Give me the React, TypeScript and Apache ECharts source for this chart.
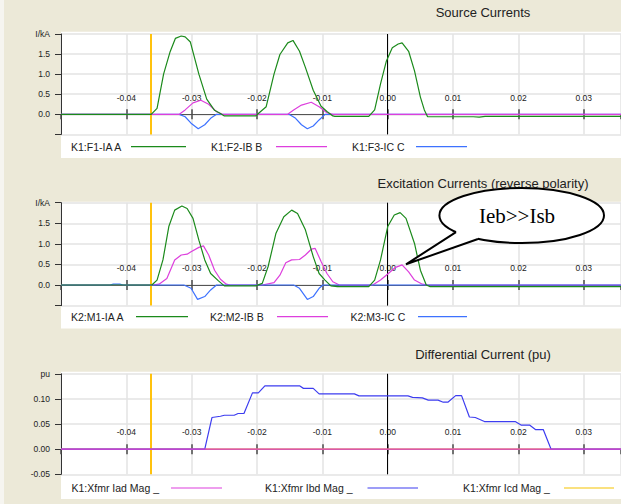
import React, { useEffect, useRef } from 'react';
import * as echarts from 'echarts';

// ---------- data ----------
const X_MIN = -0.05;
const X_MAX = 0.0357;
const cursorTime = -0.0362;
const triggerTime = 0;

const panelTitles = ['Source Currents', 'Excitation Currents (reverse polarity)', 'Differential Current (pu)'];
const srcNames = ['K1:F1-IA A', 'K1:F2-IB B', 'K1:F3-IC C'];
const excNames = ['K2:M1-IA A', 'K2:M2-IB B', 'K2:M3-IC C'];
const diffNames = ['K1:Xfmr Iad Mag _', 'K1:Xfmr Ibd Mag _', 'K1:Xfmr Icd Mag _'];
const calloutText = 'Ieb>>Isb';

const srcIA: [number, number][] = [
  [-0.05, 0], [-0.0362, 0], [-0.0353, 0.15], [-0.0343, 1.0], [-0.0333, 1.56], [-0.0325, 1.89], [-0.0316, 1.95],
  [-0.0310, 1.93], [-0.0302, 1.8], [-0.0289, 1.0], [-0.0277, 0.38], [-0.0265, 0.1], [-0.0256, 0.02], [-0.0250, -0.04],
  [-0.0202, -0.04], [-0.0198, 0.02], [-0.0186, 0.19], [-0.0174, 1.0], [-0.0165, 1.49], [-0.0153, 1.78], [-0.0145, 1.84],
  [-0.0135, 1.57], [-0.0126, 1.17], [-0.0114, 0.6], [-0.0102, 0.2], [-0.0093, 0.07], [-0.0084, -0.04], [-0.0081, -0.05],
  [-0.0029, -0.05], [-0.0020, 0.11], [-0.0011, 0.76], [-0.0002, 1.33], [0.0007, 1.66], [0.0016, 1.75], [0.0022, 1.78],
  [0.0032, 1.57], [0.0041, 1.08], [0.0050, 0.43], [0.0056, 0.11], [0.0061, -0.06], [0.0131, -0.06], [0.0140, -0.07],
  [0.0149, -0.05], [0.0357, -0.05],
];
const srcIB: [number, number][] = [
  [-0.05, 0], [-0.0319, 0], [-0.0310, 0.11], [-0.0298, 0.285], [-0.0286, 0.35], [-0.0274, 0.25], [-0.0262, 0.065],
  [-0.0253, 0], [-0.0153, 0], [-0.0144, 0.11], [-0.0132, 0.23], [-0.0117, 0.3], [-0.0105, 0.19], [-0.0093, 0.04],
  [-0.0084, 0], [0.0357, 0],
];
const srcIC: [number, number][] = [
  [-0.05, 0], [-0.0319, 0], [-0.0310, -0.06], [-0.0301, -0.22], [-0.0290, -0.36], [-0.0280, -0.26], [-0.0271, -0.1],
  [-0.0262, 0], [-0.0151, 0], [-0.0141, -0.1], [-0.0132, -0.26], [-0.0123, -0.36], [-0.0114, -0.29], [-0.0105, -0.14],
  [-0.0096, 0], [0.0357, 0],
];

const excIA: [number, number][] = [
  [-0.05, 0], [-0.0361, 0], [-0.0353, 0.12], [-0.0344, 0.61], [-0.0335, 1.42], [-0.0326, 1.82], [-0.0315, 1.92],
  [-0.0307, 1.86], [-0.0298, 1.62], [-0.0289, 1.09], [-0.0280, 0.61], [-0.0271, 0.28], [-0.0259, 0.1], [-0.0250, -0.02],
  [-0.0202, -0.02], [-0.0192, 0.04], [-0.0183, 0.45], [-0.0171, 1.26], [-0.0159, 1.66], [-0.0147, 1.82], [-0.0138, 1.74],
  [-0.0126, 1.34], [-0.0114, 0.69], [-0.0105, 0.28], [-0.0096, 0.12], [-0.0087, -0.02], [-0.0077, -0.04],
  [-0.0029, -0.04], [-0.0020, 0.12], [-0.0011, 0.61], [0.0000, 1.42], [0.0010, 1.7], [0.0019, 1.76], [0.0028, 1.62],
  [0.0041, 1.01], [0.0050, 0.36], [0.0059, 0], [0.0065, -0.04], [0.0357, -0.04],
];
const excIB: [number, number][] = [
  [-0.05, 0], [-0.0361, 0], [-0.0350, 0.02], [-0.0338, 0.16], [-0.0326, 0.61], [-0.0316, 0.73], [-0.0307, 0.75],
  [-0.0301, 0.81], [-0.0289, 0.915], [-0.0282, 0.95], [-0.0274, 0.73], [-0.0265, 0.36], [-0.0256, 0.14], [-0.0247, 0.02],
  [-0.0241, 0], [-0.0192, 0], [-0.0174, 0.06], [-0.0165, 0.24], [-0.0156, 0.54], [-0.0147, 0.61], [-0.0135, 0.62],
  [-0.0126, 0.73], [-0.0117, 0.87], [-0.0111, 0.89], [-0.0102, 0.57], [-0.0093, 0.28], [-0.0084, 0.08], [-0.0074, 0],
  [-0.0023, 0], [-0.0011, 0.12], [0.0001, 0.28], [0.0012, 0.43], [0.0022, 0.49], [0.0032, 0.32], [0.0041, 0.12],
  [0.0053, 0.02], [0.0062, 0], [0.0357, 0],
];
const excIC: [number, number][] = [
  [-0.05, 0], [-0.0425, 0], [-0.0420, 0.02], [-0.0410, 0.02], [-0.0405, 0], [-0.0312, 0], [-0.0301, -0.08],
  [-0.0291, -0.35], [-0.0280, -0.28], [-0.0271, -0.12], [-0.0262, 0], [-0.0144, 0], [-0.0135, -0.08], [-0.0123, -0.35],
  [-0.0114, -0.28], [-0.0105, -0.08], [-0.0099, 0], [0.0357, 0],
];

const diffIad: [number, number][] = [[-0.05, 0], [0.0357, 0]];
const diffIcd: [number, number][] = [[-0.05, 0], [0.0357, 0]];
const diffIbd: [number, number][] = [
  [-0.05, 0], [-0.0280, 0], [-0.0269, 0.063], [-0.0256, 0.0655], [-0.0250, 0.0675], [-0.0235, 0.0675], [-0.0229, 0.071],
  [-0.0220, 0.071], [-0.0207, 0.112], [-0.0198, 0.112], [-0.0188, 0.126], [-0.0135, 0.126], [-0.0129, 0.121],
  [-0.0114, 0.121], [-0.0105, 0.110], [-0.0051, 0.110], [-0.0044, 0.106], [0.0031, 0.106], [0.0038, 0.103],
  [0.0053, 0.102], [0.0062, 0.0975], [0.0077, 0.0975], [0.0085, 0.0935], [0.0092, 0.0935], [0.0104, 0.1065],
  [0.0113, 0.1065], [0.0125, 0.064], [0.0134, 0.063], [0.0148, 0.055], [0.0195, 0.055], [0.0204, 0.048],
  [0.0217, 0.048], [0.0226, 0.039], [0.0238, 0.039], [0.0250, 0], [0.0357, 0],
];

// ---------- styling / layout ----------
const BG = '#ECE9D8';
const GREEN = '#1b8a1b';
const MAGENTA = '#dd3fdd';
const BLUE = '#3d72ff';
const DBLUE = '#3d3df0';
const GOLD = '#f5c400';
const CURSOR = '#FFC20E';
const GRIDC = '#e3e3e3';
const FONT = '"Liberation Sans", Arial, sans-serif';

const panels = [
  { top: 34, height: 100.4, white: [31.7, 158], legendY: 146.7, titleY: 12.7, ymin: -0.5, ymax: 2, yint: 0.5 },
  { top: 202.7, height: 102.9, white: [201.7, 328.5], legendY: 316.7, titleY: 183.3, ymin: -0.5, ymax: 2, yint: 0.5 },
  { top: 373.8, height: 100.5, white: [371.7, 499], legendY: 488, titleY: 354, ymin: -0.05, ymax: 0.15, yint: 0.05 },
];
const LABEL_ABOVE = 12.3; // px between zero line and bottom of time labels

const legendLayout = [
  { tx: [71, 211, 352], lines: [[131, 186], [276, 327], [416, 467]], colors: [GREEN, MAGENTA, BLUE], names: srcNames },
  { tx: [71, 210, 350.5], lines: [[136, 188], [277, 328], [418, 467]], colors: [GREEN, MAGENTA, BLUE], names: excNames },
  { tx: [71.5, 265, 463], lines: [[171, 222], [367.5, 418], [564, 614]], colors: [MAGENTA, DBLUE, GOLD], names: diffNames },
];

const fmtTime = (v: number) => {
  const r = Math.round(v * 100) / 100;
  if (Math.abs(v - r) > 1e-6 || r < -0.045) return '';
  return (r === 0 ? 0 : r).toFixed(2);
};
const fmtKA = (v: number) => {
  if (Math.abs(v - 2) < 1e-9) return 'I/kA';
  if (v < -0.25) return '';
  return (Math.abs(v) < 1e-9 ? 0 : v).toFixed(1);
};
const fmtPU = (v: number) => {
  if (Math.abs(v - 0.15) < 1e-9) return 'pu';
  return (Math.abs(v) < 1e-9 ? 0 : v).toFixed(2);
};

function buildOption() {
  const grid: any[] = [];
  const xAxis: any[] = [];
  const yAxis: any[] = [];
  panels.forEach((p, i) => {
    // ECharts offsets on-zero axis labels down to the grid bottom; compensate via margin
    const zeroOffset = p.height * (-p.ymin) / (p.ymax - p.ymin);
    grid.push({ left: 61, right: 0, top: p.top, height: p.height, show: false });
    xAxis.push({
      type: 'value', gridIndex: i, min: X_MIN, max: X_MAX, interval: 0.01, position: 'bottom',
      axisLine: { show: true, onZero: true, onZeroAxisIndex: i, lineStyle: { color: '#555', width: 1 } },
      axisTick: { show: true, inside: true, length: 5, lineStyle: { color: '#4a4a4a', width: 1.5 } },
      axisLabel: { inside: true, margin: zeroOffset + LABEL_ABOVE, fontSize: 8.5, color: '#222', fontFamily: FONT, formatter: fmtTime, showMinLabel: false, showMaxLabel: false },
      splitLine: { show: true, lineStyle: { color: GRIDC, width: 1.5 } },
    });
    xAxis.push({
      type: 'value', gridIndex: i, min: X_MIN, max: X_MAX, interval: 0.01, position: 'bottom',
      axisLine: { show: false, onZero: true, onZeroAxisIndex: i },
      axisTick: { show: true, inside: false, length: 5, lineStyle: { color: '#4a4a4a', width: 1.5 } },
      axisLabel: { show: false },
      splitLine: { show: false },
    });
    yAxis.push({
      type: 'value', gridIndex: i, min: p.ymin, max: p.ymax, interval: p.yint, position: 'left',
      axisLine: { show: true, onZero: false, lineStyle: { color: '#333', width: 1 } },
      axisTick: { show: true, length: 6, lineStyle: { color: '#333' } },
      axisLabel: { margin: 11, fontSize: 8.5, color: '#222', fontFamily: FONT, formatter: i === 2 ? fmtPU : fmtKA },
      splitLine: { show: true, lineStyle: { color: GRIDC, width: 1.5 } },
    });
  });

  const markLine = {
    silent: true, symbol: ['none', 'none'], z: 1, precision: 5, label: { show: false },
    data: [
      { xAxis: cursorTime, lineStyle: { color: CURSOR, width: 2, type: 'solid' } },
      { xAxis: triggerTime, lineStyle: { color: '#000', width: 1, type: 'solid' } },
    ],
  };
  const mk = (name: string, data: [number, number][], color: string, i: number, withMark = false) => ({
    type: 'line', name, data, xAxisIndex: i * 2, yAxisIndex: i, showSymbol: false, symbol: 'none', silent: true,
    lineStyle: { color, width: 1.2 }, itemStyle: { color }, animation: false,
    ...(withMark ? { markLine } : {}),
  });

  const series = [
    mk(srcNames[2], srcIC, BLUE, 0, true), mk(srcNames[1], srcIB, MAGENTA, 0), mk(srcNames[0], srcIA, GREEN, 0),
    mk(excNames[1], excIB, MAGENTA, 1, true), mk(excNames[2], excIC, BLUE, 1), mk(excNames[0], excIA, GREEN, 1),
    mk(diffNames[2], diffIcd, GOLD, 2, true), mk(diffNames[1], diffIbd, DBLUE, 2), mk(diffNames[0], diffIad, MAGENTA, 2),
  ];

  const graphic: any[] = [];
  graphic.push({ type: 'rect', z: -2, shape: { x: 0, y: 0, width: 4, height: 504 }, style: { fill: '#f6f5f0' } });
  panels.forEach((p, i) => {
    graphic.push({ type: 'rect', z: -1, shape: { x: 61, y: p.white[0], width: 560, height: p.white[1] - p.white[0] }, style: { fill: '#ffffff' } });
    graphic.push({
      type: 'text', x: 483, y: p.titleY, z: 10,
      style: { text: panelTitles[i], fill: '#222', font: `13px ${FONT}`, align: 'center', verticalAlign: 'middle' },
    });
    const L = legendLayout[i];
    L.names.forEach((n, k) => {
      graphic.push({
        type: 'text', x: L.tx[k], y: p.legendY, z: 10,
        style: { text: n, fill: '#222', font: `10.5px ${FONT}`, align: 'left', verticalAlign: 'middle' },
      });
      graphic.push({
        type: 'line', z: 10, shape: { x1: L.lines[k][0], y1: p.legendY, x2: L.lines[k][1], y2: p.legendY },
        style: { stroke: L.colors[k], lineWidth: 1.2 },
      });
    });
  });

  // callout bubble
  const cx = 521.7, cy = 215.5, rx = 82.3, ry = 27.5;
  const b1: [number, number] = [456, 232.2];
  const b2: [number, number] = [478, 239.0];
  const tip: [number, number] = [406, 264.3];
  graphic.push({ type: 'ellipse', z: 100, shape: { cx, cy, rx, ry }, style: { fill: '#fff', stroke: '#000', lineWidth: 2 } });
  graphic.push({ type: 'polygon', z: 101, shape: { points: [b1, tip, b2, [478, 232], [458, 226]] }, style: { fill: '#fff' } });
  graphic.push({ type: 'polyline', z: 102, shape: { points: [b1, tip, b2] }, style: { stroke: '#000', lineWidth: 2, fill: null } });
  graphic.push({
    type: 'text', x: 517, y: 216, z: 103,
    style: { text: calloutText, fill: '#000', font: '21px "Liberation Serif", "Times New Roman", serif', align: 'center', verticalAlign: 'middle' },
  });

  return {
    animation: false,
    backgroundColor: BG,
    textStyle: { fontFamily: FONT },
    grid, xAxis, yAxis, series, graphic,
  };
}

export default function App() {
  const ref = useRef<HTMLDivElement>(null);
  useEffect(() => {
    if (!ref.current) return;
    const chart = echarts.init(ref.current, null, { renderer: 'svg' });
    chart.setOption(buildOption() as any);
    return () => chart.dispose();
  }, []);
  return <div ref={ref} style={{ position: 'absolute', left: 0, top: 0, width: 621, height: 504 }} />;
}
